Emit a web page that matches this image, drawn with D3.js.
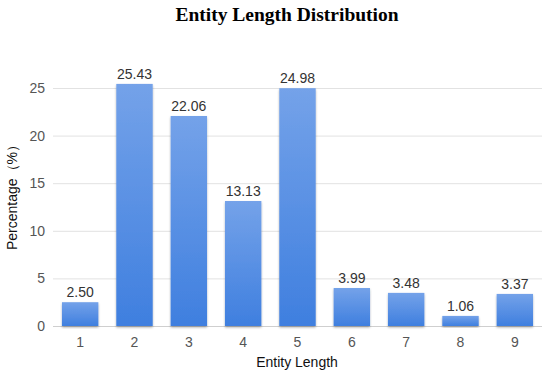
<!DOCTYPE html>
<html>
<head>
<meta charset="utf-8">
<script src="https://cdn.jsdelivr.net/npm/d3@7"></script>
<style>
  body { margin: 0; background: #fff; }
  text { font-family: Arial, "Liberation Sans", sans-serif; }
</style>
</head>
<body>
<div id="chart"></div>
<script>
const lengths = ["1", "2", "3", "4", "5", "6", "7", "8", "9"];
const percents = [2.50, 25.43, 22.06, 13.13, 24.98, 3.99, 3.48, 1.06, 3.37];
const yTicks = [0, 5, 10, 15, 20, 25];

const width = 550;
const height = 373;
const margin = { top: 88, right: 8, bottom: 47, left: 53 };
const innerW = width - margin.left - margin.right;

const data = lengths.map((d, i) => ({ len: d, value: percents[i] }));

const svg = d3
  .select("#chart")
  .append("svg")
  .attr("width", width)
  .attr("height", height);

// bar gradient, lighter at top
const defs = svg.append("defs");
const grad = defs
  .append("linearGradient")
  .attr("id", "barGrad")
  .attr("x1", 0).attr("y1", 0)
  .attr("x2", 0).attr("y2", 1);
grad.append("stop").attr("offset", "0%").attr("stop-color", "#74a2e9");
grad.append("stop").attr("offset", "100%").attr("stop-color", "#3f7fdf");

const shadow = defs.append("filter").attr("id", "shadow")
  .attr("x", "-20%").attr("y", "-5%").attr("width", "140%").attr("height", "115%");
shadow.append("feDropShadow")
  .attr("dx", 0).attr("dy", 1.5)
  .attr("stdDeviation", 1)
  .attr("flood-color", "#000")
  .attr("flood-opacity", 0.3);

// title
svg
  .append("text")
  .attr("x", 287)
  .attr("y", 21)
  .attr("text-anchor", "middle")
  .style("font-family", "'Liberation Serif', 'Times New Roman', serif")
  .style("font-weight", "bold")
  .style("font-size", "19.5px")
  .attr("fill", "#000")
  .text("Entity Length Distribution");

const g = svg
  .append("g")
  .attr("transform", `translate(${margin.left},${margin.top})`);

const xScale = d3
  .scaleBand()
  .domain(lengths)
  .range([0, innerW])
  .paddingInner(0.33)
  .paddingOuter(0.165);

const yScale = d3.scaleLinear().domain([0, 25]).range([238, 0]);

// gridlines
g.append("g")
  .selectAll("line")
  .data(yTicks)
  .enter()
  .append("line")
  .attr("x1", 0)
  .attr("x2", innerW)
  .attr("y1", (d) => yScale(d) + 0.5)
  .attr("y2", (d) => yScale(d) + 0.5)
  .attr("stroke", (d) => (d === 0 ? "#cfcfcf" : "#e2e2e2"))
  .attr("stroke-width", 1);

// y axis
const yAxis = g
  .append("g")
  .attr("transform", "translate(-8,0)")
  .call(d3.axisLeft(yScale).tickValues(yTicks).tickSize(0).tickPadding(0));
yAxis.select(".domain").remove();
yAxis.selectAll("text")
  .style("font-size", "14px")
  .attr("fill", "#555");

// x axis
const xAxis = g
  .append("g")
  .attr("transform", `translate(0,${yScale(0)})`)
  .call(d3.axisBottom(xScale).tickSize(0).tickPadding(11));
xAxis.select(".domain").remove();
xAxis.selectAll("text")
  .style("font-size", "14px")
  .attr("fill", "#555");

// axis titles
svg
  .append("text")
  .attr("x", 297)
  .attr("y", 367)
  .attr("text-anchor", "middle")
  .style("font-size", "14px")
  .attr("fill", "#111")
  .text("Entity Length");

svg
  .append("text")
  .attr("transform", "rotate(-90)")
  .attr("x", -194)
  .attr("y", 17)
  .attr("text-anchor", "middle")
  .style("font-size", "14px")
  .attr("fill", "#111")
  .text("Percentage（%）");

// bars
g.append("g")
  .selectAll("rect")
  .data(data)
  .enter()
  .append("rect")
  .attr("x", (d) => xScale(d.len))
  .attr("y", (d) => yScale(d.value))
  .attr("width", xScale.bandwidth())
  .attr("height", (d) => yScale(0) - yScale(d.value))
  .attr("fill", "url(#barGrad)")
  .attr("filter", "url(#shadow)");

// value labels
g.append("g")
  .selectAll("text")
  .data(data)
  .enter()
  .append("text")
  .attr("x", (d) => xScale(d.len) + xScale.bandwidth() / 2)
  .attr("y", (d) => yScale(d.value) - 5)
  .attr("text-anchor", "middle")
  .style("font-size", "14px")
  .attr("fill", "#333")
  .text((d) => d.value.toFixed(2));
</script>
</body>
</html>
